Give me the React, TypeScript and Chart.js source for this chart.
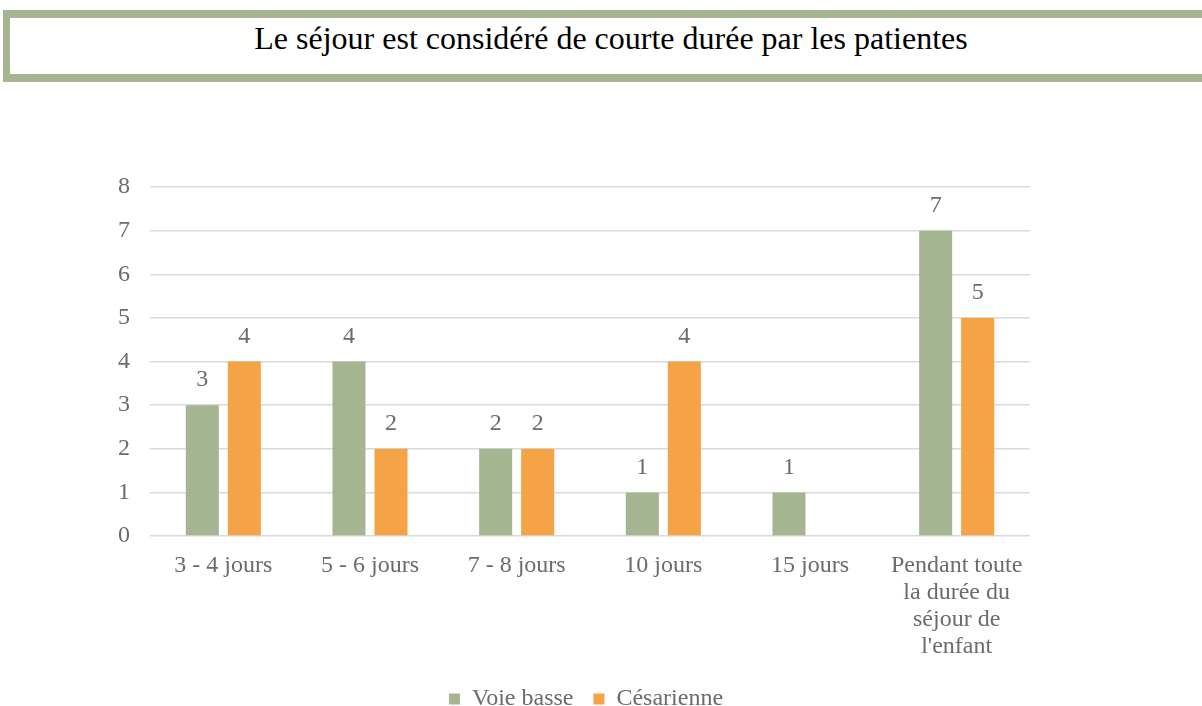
import React, { useEffect, useRef } from "react";
import { Chart, registerables } from "chart.js";

Chart.register(...registerables);

const TITLE = "Le séjour est considéré de courte durée par les patientes";
const categories: (string | string[])[] = [
  "3 - 4 jours",
  "5 - 6 jours",
  "7 - 8 jours",
  "10 jours",
  "15 jours",
  ["Pendant toute", "la durée du", "séjour de", "l'enfant"],
];
const voieBasse: (number | null)[] = [3, 4, 2, 1, 1, 7];
const cesarienne: (number | null)[] = [4, 2, 2, 4, null, 5];
const seriesNames = ["Voie basse", "Césarienne"];
const yTicks = [0, 1, 2, 3, 4, 5, 6, 7, 8];

const GREEN = "#a5b592";
const ORANGE = "#f4a347";
const TEXT = "#6b6b6b";
const FONT = "'Liberation Serif', 'Times New Roman', serif";

const dataLabels = {
  id: "dataLabels",
  afterDatasetsDraw(chart: any) {
    const ctx = chart.ctx;
    ctx.save();
    ctx.font = `24px ${FONT}`;
    ctx.fillStyle = TEXT;
    ctx.textAlign = "center";
    ctx.textBaseline = "middle";
    chart.data.datasets.forEach((ds: any, i: number) => {
      const meta = chart.getDatasetMeta(i);
      meta.data.forEach((bar: any, j: number) => {
        const v = ds.data[j];
        if (v === null || v === undefined) return;
        ctx.fillText(String(v), bar.x, bar.y - 25);
      });
    });
    ctx.restore();
  },
};

export default function App() {
  const ref = useRef<HTMLCanvasElement>(null);
  useEffect(() => {
    if (!ref.current) return;
    Chart.defaults.font.family = FONT;
    const chart = new Chart(ref.current, {
      type: "bar",
      data: {
        labels: categories,
        datasets: [
          {
            label: seriesNames[0],
            data: voieBasse,
            backgroundColor: GREEN,
            barPercentage: 0.786,
            categoryPercentage: 0.573,
          },
          {
            label: seriesNames[1],
            data: cesarienne,
            backgroundColor: ORANGE,
            barPercentage: 0.786,
            categoryPercentage: 0.573,
          },
        ],
      },
      options: {
        animation: false,
        responsive: false,
        maintainAspectRatio: false,
        layout: { padding: { top: 187, right: 30, left: 0, bottom: -15 } },
        plugins: {
          tooltip: { enabled: false },
          title: { display: false },
          legend: {
            position: "bottom",
            labels: {
              boxWidth: 11,
              boxHeight: 11,
              color: TEXT,
              font: { size: 24, family: FONT },
              padding: 20,
            },
          },
        },
        scales: {
          x: {
            grid: { display: false, drawTicks: false },
            border: { display: false },
            ticks: {
              color: TEXT,
              font: { size: 24, family: FONT, lineHeight: 1.125 },
              padding: 16,
              maxRotation: 0,
              autoSkip: false,
            },
            afterFit: (s: any) => {
              s.height = 131;
            },
          },
          y: {
            min: 0,
            max: 8,
            afterBuildTicks: (s: any) => {
              s.ticks = yTicks.map((v) => ({ value: v }));
            },
            grid: { color: "#d9d9d9", lineWidth: 1.5, drawTicks: false },
            border: { display: false },
            ticks: {
              color: TEXT,
              font: { size: 24, family: FONT },
              padding: 20,
            },
            afterFit: (s: any) => {
              s.width = 150;
            },
          },
          ySpacer: {
            position: "right",
            min: 0,
            max: 8,
            grid: { display: false, drawTicks: false },
            border: { display: false },
            ticks: { display: false },
            afterFit: (s: any) => {
              s.width = 142;
            },
          },
        },
      },
      plugins: [dataLabels],
    });
    return () => chart.destroy();
  }, []);

  return (
    <div
      style={{
        position: "fixed",
        left: 0,
        top: 0,
        width: 1202,
        height: 706,
        overflow: "hidden",
        background: "#fff",
      }}
    >
      <div
        style={{
          position: "absolute",
          left: 3,
          top: 10,
          width: 1217,
          height: 72,
          boxSizing: "border-box",
          border: `8px solid ${GREEN}`,
          borderLeftWidth: 7,
          paddingTop: 4,
          textAlign: "center",
          lineHeight: "32px",
          fontFamily: FONT,
          fontSize: 32,
          color: "#000",
        }}
      >
        {TITLE}
      </div>
      <canvas
        ref={ref}
        width={1202}
        height={706}
        style={{ position: "absolute", left: 0, top: 0, width: 1202, height: 706 }}
      />
    </div>
  );
}
